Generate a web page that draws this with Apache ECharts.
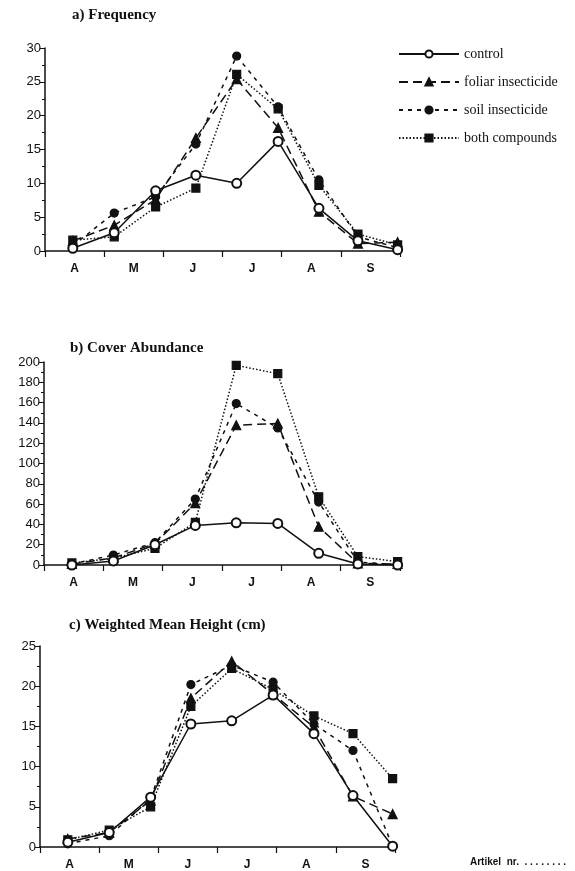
<!DOCTYPE html>
<html>
<head>
<meta charset="utf-8">
<script src="https://cdn.jsdelivr.net/npm/echarts@6/dist/echarts.min.js"></script>
<style>
html, body { margin: 0; padding: 0; background: #fff; }
#chart { width: 575px; height: 871px; }
</style>
</head>
<body>
<div id="chart"></div>
<script>
const months = ['A', 'M', 'J', 'J', 'A', 'S'];
// sampling dates, in months counted from 1 April
const sampleMonths = [0.47, 1.17, 1.87, 2.55, 3.24, 3.94, 4.63, 5.29, 5.96];
const seriesNames = ['control', 'foliar insecticide', 'soil insecticide', 'both compounds'];
const panelTitles = ['a) Frequency', 'b) Cover Abundance', 'c) Weighted Mean Height (cm)'];

// a) Frequency
const freqControl = [0.4, 2.7, 8.9, 11.2, 10.0, 16.2, 6.3, 1.5, 0.2];
const freqFoliar = [1.5, 3.8, 7.6, 16.7, 25.4, 18.2, 5.8, 1.1, 1.3];
const freqSoil = [0.8, 5.6, 8.0, 15.8, 28.8, 21.3, 10.5, 2.1, 0.5];
const freqBoth = [1.6, 2.1, 6.5, 9.3, 26.1, 21.0, 9.7, 2.5, 0.9];

// b) Cover Abundance
const coverControl = [0, 4, 20, 39, 41.6, 41, 11.5, 1, 0];
const coverFoliar = [1, 7, 21, 61, 137.7, 139.4, 37.7, 1.6, 1];
const coverSoil = [1, 9.8, 22, 65, 159, 135, 62, 3, 0];
const coverBoth = [2, 6.6, 16.4, 42, 196.7, 188.5, 67.2, 8.2, 3.3];

// c) Weighted Mean Height (cm)
const heightControl = [0.6, 1.8, 6.2, 15.3, 15.7, 18.9, 14.1, 6.4, 0.1];
const heightFoliar = [1.0, 1.8, 5.8, 18.5, 23.1, 19.0, 14.9, 6.3, 4.1];
const heightSoil = [0.4, 1.4, 6.0, 20.2, 22.6, 20.5, 15.3, 12.0, 0.1];
const heightBoth = [0.9, 2.1, 5.0, 17.5, 22.2, 19.6, 16.3, 14.1, 8.5];

const panelData = [
    [freqControl, freqFoliar, freqSoil, freqBoth],
    [coverControl, coverFoliar, coverSoil, coverBoth],
    [heightControl, heightFoliar, heightSoil, heightBoth]
];
const yMax = [30, 200, 25];
const yStep = [5, 20, 5];

const ink = '#111';
const lineLooks = [
    { symbol: 'emptyCircle', symbolSize: 9, type: 'solid' },
    { symbol: 'triangle', symbolSize: 9, type: [9, 5] },
    { symbol: 'circle', symbolSize: 8, type: [4, 5] },
    { symbol: 'rect', symbolSize: 8, type: [1.5, 2] }
];

const grids = [
    { left: 45, width: 355, top: 48, height: 203 },
    { left: 44, width: 356, top: 362, height: 203 },
    { left: 40, width: 355, top: 646, height: 203 }
];
const titleSpots = [
    { left: 72, top: 8 },
    { left: 70, top: 341 },
    { left: 69, top: 618 }
];

const xAxes = [];
const yAxes = [];
const seriesList = [];
const titles = [];

grids.forEach(function (g, i) {
    titles.push({
        text: panelTitles[i],
        left: titleSpots[i].left,
        top: titleSpots[i].top,
        padding: 0,
        textStyle: { fontFamily: 'Liberation Serif', fontWeight: 'bold', fontSize: 15, color: ink }
    });
    xAxes.push({
        type: 'category',
        gridIndex: i,
        data: months,
        boundaryGap: true,
        axisLine: { show: true, lineStyle: { color: ink, width: 1.5 } },
        axisTick: { show: true, alignWithLabel: false, length: 6, lineStyle: { color: ink, width: 1.2 } },
        axisLabel: { color: ink, fontFamily: 'Liberation Sans', fontWeight: 'bold', fontSize: 12, margin: 12 },
        splitLine: { show: false }
    });
    xAxes.push({
        type: 'value',
        gridIndex: i,
        min: 0,
        max: 6,
        show: false
    });
    yAxes.push({
        type: 'value',
        gridIndex: i,
        min: 0,
        max: yMax[i],
        interval: yStep[i],
        axisLine: { show: true, lineStyle: { color: ink, width: 1.5 } },
        axisTick: { show: true, length: 5, lineStyle: { color: ink } },
        minorTick: { show: true, splitNumber: 2, length: 3, lineStyle: { color: ink } },
        axisLabel: { color: ink, fontFamily: 'Liberation Sans', fontSize: 13, margin: 4 },
        splitLine: { show: false },
        minorSplitLine: { show: false }
    });
    panelData[i].forEach(function (values, k) {
        seriesList.push({
            name: seriesNames[k],
            type: 'line',
            xAxisIndex: i * 2 + 1,
            yAxisIndex: i,
            symbol: lineLooks[k].symbol,
            symbolSize: lineLooks[k].symbolSize,
            z: 10 - k,
            itemStyle: { color: ink, borderColor: ink, borderWidth: 1.2 },
            lineStyle: { color: ink, width: 1.5, type: lineLooks[k].type },
            data: values.map(function (v, j) { return [sampleMonths[j], v]; })
        });
    });
});

const chart = echarts.init(document.getElementById('chart'));
chart.setOption({
    animation: false,
    backgroundColor: '#fff',
    title: titles,
    legend: {
        data: seriesNames,
        orient: 'vertical',
        left: 393,
        top: 42,
        itemWidth: 60,
        itemHeight: 9,
        itemGap: 14,
        textStyle: { fontFamily: 'Liberation Serif', fontSize: 14, color: ink }
    },
    graphic: [{
        type: 'text',
        left: 470,
        top: 857,
        style: { text: 'Artikel  nr.  . . . . . . . .', font: 'bold 10px Liberation Sans', fill: ink }
    }],
    grid: grids,
    xAxis: xAxes,
    yAxis: yAxes,
    series: seriesList
});
</script>
</body>
</html>
